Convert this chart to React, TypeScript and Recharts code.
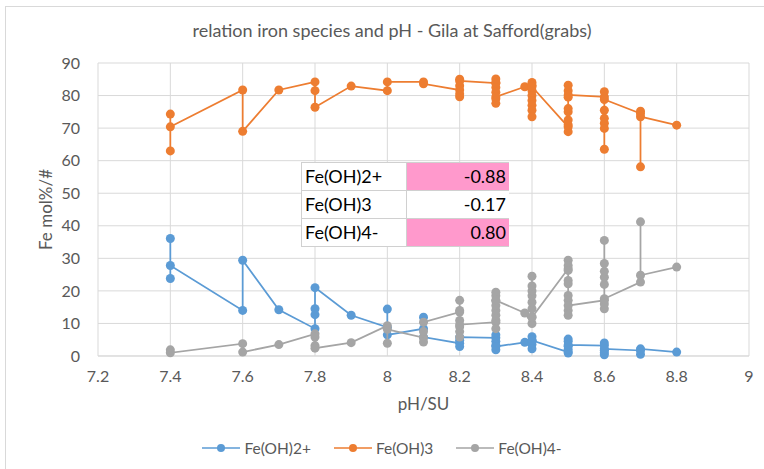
import { CartesianGrid, Scatter, ScatterChart, XAxis, YAxis } from 'recharts';

// pH of each sample, in the order the spreadsheet plots them
const fe2Ph = [7.4, 7.4, 7.4, 7.6, 7.6, 7.7, 7.8, 7.8, 7.8, 7.8, 7.9, 8, 8, 8, 8.1, 8.1, 8.1, 8.2, 8.2, 8.2, 8.2, 8.3, 8.3, 8.3, 8.3, 8.3, 8.3, 8.38, 8.4, 8.4, 8.4, 8.4, 8.4, 8.5, 8.5, 8.5, 8.5, 8.5, 8.5, 8.5, 8.6, 8.6, 8.6, 8.6, 8.6, 8.6, 8.7, 8.7, 8.7, 8.8];
const fe2Mol = [36.1, 23.8, 27.8, 14.0, 29.4, 14.2, 8.4, 12.7, 14.5, 21.0, 12.5, 8.8, 14.4, 6.5, 8.4, 11.9, 5.8, 3.9, 2.9, 4.8, 5.8, 5.6, 6.5, 4.5, 3.3, 1.9, 2.9, 4.2, 5.9, 4.8, 3.5, 2.2, 4.8, 1.2, 0.9, 2.0, 3.0, 4.5, 5.2, 3.4, 3.2, 4.0, 1.0, 0.4, 1.8, 2.2, 1.7, 0.5, 2.2, 1.2];

const fe3Ph = [7.4, 7.4, 7.4, 7.6, 7.6, 7.7, 7.8, 7.8, 7.8, 7.9, 8, 8, 8.1, 8.1, 8.2, 8.2, 8.2, 8.2, 8.2, 8.2, 8.3, 8.3, 8.3, 8.3, 8.3, 8.3, 8.3, 8.3, 8.38, 8.4, 8.4, 8.4, 8.4, 8.4, 8.4, 8.4, 8.4, 8.4, 8.5, 8.5, 8.5, 8.5, 8.5, 8.5, 8.5, 8.5, 8.5, 8.5, 8.6, 8.6, 8.6, 8.6, 8.6, 8.6, 8.6, 8.6, 8.7, 8.7, 8.7, 8.7, 8.8];
const fe3Mol = [74.3, 63.0, 70.4, 81.7, 69.0, 81.7, 84.2, 81.5, 76.4, 82.9, 81.5, 84.2, 84.2, 83.6, 81.7, 79.6, 80.5, 83.0, 85.0, 84.5, 83.8, 85.1, 84.0, 82.5, 81.0, 79.0, 77.6, 79.6, 82.7, 84.0, 83.2, 81.5, 80.0, 78.5, 77.0, 75.5, 73.5, 82.7, 70.4, 68.9, 71.0, 72.5, 75.0, 76.0, 79.5, 81.5, 83.2, 80.2, 79.6, 81.2, 75.5, 73.0, 71.5, 69.9, 63.5, 78.8, 74.5, 75.2, 58.1, 73.5, 70.9];

const fe4Ph = [7.4, 7.4, 7.6, 7.6, 7.7, 7.8, 7.8, 7.8, 7.8, 7.9, 8, 8, 8, 8.1, 8.1, 8.1, 8.1, 8.2, 8.2, 8.2, 8.2, 8.2, 8.2, 8.2, 8.2, 8.3, 8.3, 8.3, 8.3, 8.3, 8.3, 8.3, 8.3, 8.3, 8.3, 8.38, 8.4, 8.4, 8.4, 8.4, 8.4, 8.4, 8.4, 8.4, 8.4, 8.5, 8.5, 8.5, 8.5, 8.5, 8.5, 8.5, 8.5, 8.5, 8.5, 8.5, 8.6, 8.6, 8.6, 8.6, 8.6, 8.6, 8.6, 8.6, 8.6, 8.7, 8.7, 8.7, 8.8];
const fe4Mol = [1.9, 1.0, 3.8, 1.2, 3.5, 6.8, 5.8, 3.2, 2.4, 4.1, 9.3, 3.9, 8.2, 5.6, 4.3, 7.5, 10.4, 13.5, 17.1, 14.0, 10.9, 9.0, 7.5, 5.8, 9.6, 10.4, 8.4, 11.0, 12.5, 14.0, 15.5, 17.0, 18.5, 19.6, 17.1, 13.2, 10.0, 12.0, 14.5, 16.5, 18.5, 20.0, 21.5, 24.5, 11.9, 26.8, 29.4, 27.8, 26.3, 23.2, 22.2, 18.6, 17.1, 14.0, 12.5, 15.5, 17.1, 14.5, 16.0, 22.0, 24.2, 26.0, 28.4, 35.5, 17.6, 22.7, 41.2, 24.8, 27.3];

const xTicks = [7.2, 7.4, 7.6, 7.8, 8, 8.2, 8.4, 8.6, 8.8, 9];
const yTicks = [0, 10, 20, 30, 40, 50, 60, 70, 80, 90];

const species = ['Fe(OH)2+', 'Fe(OH)3', 'Fe(OH)4-'];
const correlations = ['-0.88', '-0.17', '0.80'];
const highlighted = [true, false, true];

const colors = ['#5B9BD5', '#ED7D31', '#A5A5A5'];
const font = 'Lato, "Open Sans", sans-serif';

const toPoints = (ph: number[], mol: number[]) => ph.map((x, i) => ({ x, y: mol[i] }));
const seriesData = [toPoints(fe2Ph, fe2Mol), toPoints(fe3Ph, fe3Mol), toPoints(fe4Ph, fe4Mol)];

const dot = (color: string) => (props: any) => <circle cx={props.cx} cy={props.cy} r={4.5} fill={color} />;

export default function App() {
  return (
    <div style={{ position: 'absolute', left: 0, top: 0, width: 764, height: 469, background: '#fff', fontFamily: font, overflow: 'hidden' }}>
      <div style={{ position: 'absolute', left: 5, top: 6, right: -10, bottom: -10, borderLeft: '1px solid #d9d9d9', borderTop: '1px solid #d9d9d9' }} />
      <div style={{ position: 'absolute', top: 19, width: 784, textAlign: 'center', fontSize: 18, color: '#595959' }}>
        relation iron species and pH - Gila at Safford(grabs)
      </div>
      <ScatterChart width={764} height={469} margin={{ top: 63, right: 15, bottom: 53, left: 38 }}>
        <CartesianGrid stroke="#d9d9d9" />
        <XAxis
          type="number"
          dataKey="x"
          domain={[7.2, 9]}
          ticks={xTicks}
          tickFormatter={(v) => String(v)}
          tickLine={false}
          axisLine={{ stroke: '#d9d9d9' }}
          tickMargin={9}
          height={60}
          tick={{ fill: '#595959', fontSize: 16, fontFamily: font }}
          label={{ value: 'pH/SU', position: 'insideBottom', offset: 6, fill: '#595959', fontSize: 17, fontFamily: font }}
        />
        <YAxis
          type="number"
          dataKey="y"
          domain={[0, 90]}
          ticks={yTicks}
          tickLine={false}
          axisLine={false}
          tickMargin={12}
          width={60}
          tick={{ fill: '#595959', fontSize: 16, fontFamily: font }}
          label={{ value: 'Fe mol%/#', angle: -90, position: 'insideLeft', offset: 8, fill: '#595959', fontSize: 17, fontFamily: font, style: { textAnchor: 'middle' } }}
        />
        {seriesData.map((data, i) => (
          <Scatter
            key={species[i]}
            name={species[i]}
            data={data}
            fill={colors[i]}
            line={{ stroke: colors[i], strokeWidth: 1.75 }}
            shape={dot(colors[i])}
            isAnimationActive={false}
          />
        ))}
      </ScatterChart>
      <div style={{ position: 'absolute', left: 301, top: 162, width: 207, fontSize: 18, color: '#000', borderTop: '1px solid #d0d0d0', borderLeft: '1px solid #d0d0d0' }}>
        {species.map((s, i) => (
          <div key={s} style={{ display: 'flex', height: 27, borderBottom: '1px solid #d0d0d0', background: '#fff' }}>
            <div style={{ width: 101, paddingLeft: 3, lineHeight: '27px', borderRight: '1px solid #d0d0d0', whiteSpace: 'nowrap' }}>{s}</div>
            <div style={{ flex: 1, textAlign: 'right', paddingRight: 3, lineHeight: '27px', background: highlighted[i] ? '#FF99CC' : '#fff' }}>
              {correlations[i]}
            </div>
          </div>
        ))}
      </div>
      <div style={{ position: 'absolute', top: 439, left: 0, width: 764, display: 'flex', justifyContent: 'center', gap: 23, fontSize: 15.5, color: '#595959' }}>
        {species.map((s, i) => (
          <div key={s} style={{ display: 'flex', alignItems: 'center', gap: 4 }}>
            <svg width={38} height={10}>
              <line x1={0} y1={5} x2={38} y2={5} stroke={colors[i]} strokeWidth={1.5} />
              <circle cx={19} cy={5} r={4} fill={colors[i]} />
            </svg>
            <span>{s}</span>
          </div>
        ))}
      </div>
    </div>
  );
}
